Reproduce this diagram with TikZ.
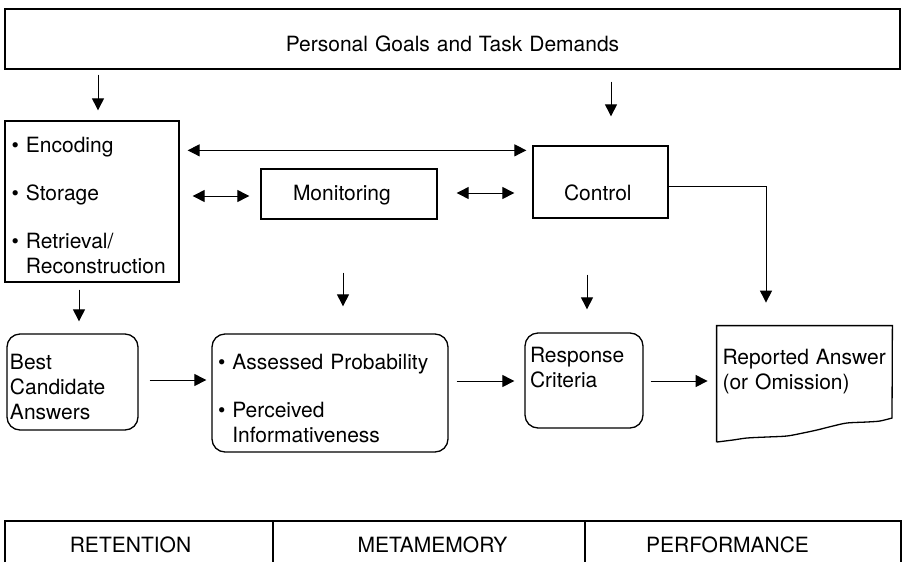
\documentclass[tikz,border=0pt]{standalone}
\usepackage{fontspec}
\setmainfont{TeX Gyre Heros}
\usetikzlibrary{arrows.meta,calc}

\begin{document}
\begin{tikzpicture}[x=0.5pt,y=-0.5pt,font=\fontsize{10.5}{12.5}\selectfont,
  box/.style={draw,line width=0.65pt,inner ysep=0pt,align=left},
  rbox/.style={box,rounded corners=6.5pt},
  arr/.style={line width=0.5pt,-{Triangle[length=6pt,width=6pt]}},
  dbl/.style={line width=0.5pt,{Triangle[length=6pt,width=6pt]}-{Triangle[length=6pt,width=6pt]}}]

\useasboundingbox (0,0) rectangle (904,562);

\node[box,align=center,inner xsep=0pt,text width=447.5pt,text height=21pt,text depth=9pt] (goals) at (452.5,39) {Personal Goals and Task Demands};

\node[box,inner xsep=3.3pt,text width=80.4pt,text height=15.75pt,text depth=64.75pt] (store) at (92,201.5)
  {\textbullet~Encoding\\[11.5pt] \textbullet~Storage\\[11.5pt] \textbullet~Retrieval/\\ \phantom{\textbullet~}Reconstruction};
\node[box,inner xsep=16pt,text width=56pt,text height=15.75pt,text depth=9.25pt] (monitor) at (349,194) {Monitoring};
\node[box,inner xsep=15.5pt,text width=36.5pt,text height=27.25pt,text depth=8.75pt] (control) at (600.5,182) {Control};

\node[rbox,inner xsep=1.5pt,text width=62.5pt,text height=17.75pt,text depth=30.25pt] (best) at (72.5,382) {Best\\Candidate\\Answers};
\node[rbox,inner xsep=3pt,text width=112pt,text height=17.75pt,text depth=41.25pt] (assess) at (330,393)
  {\textbullet~Assessed Probability\\[11.5pt] \textbullet~Perceived\\ \phantom{\textbullet~}Informativeness};
\node[rbox,inner xsep=2.5pt,text width=54pt,text height=14.75pt,text depth=32.75pt] (response) at (584,380.5) {Response\\Criteria};
\node[align=left,inner xsep=2.75pt,inner ysep=0pt,text width=82pt,text height=19.25pt,text depth=38.75pt] (report) at (804.5,384) {Reported Answer\\(or Omission)};
\draw[line width=0.65pt] (report.south west) -- (report.north west) -- (report.north east)
  -- plot[smooth,tension=.5] coordinates {(892,418) (880,421) (867,422) (847,423) (833,426) (817,430) (803,433) (787,436) (767,437) (747,438) (733,440) (717,442)};

\draw[arr] ($(store.north |- goals.south)+(6,5)$) -- ($(store.north)+(6,-10)$);
\draw[arr] ($(control.north |- goals.south)+(10.5,12)$) -- ($(control.north)+(10.5,-29)$);
\draw[dbl] ($(store.north east)+(8,30)$) -- ($(control.west |- store.north east)+(-6,30)$);
\draw[dbl] ($(store.east |- monitor.west)+(13,2)$) -- ($(monitor.west)+(-11,2)$);
\draw[dbl] ($(monitor.east)+(19,-1)$) -- ($(control.west |- monitor.east)+(-18,-1)$);
\draw[arr] ($(control.east)+(0,4)$) -| ($(report.north)+(-38.5,-23)$);
\draw[arr] ($(store.south)+(-13,7)$) -- ($(best.north)+(6.5,-12)$);
\draw[arr] ($(monitor.south)+(-6,53)$) -- ($(assess.north)+(13,-27)$);
\draw[arr] ($(control.south)+(-13.5,56)$) -- ($(response.north)+(3,-23)$);
\draw[arr] ($(best.east)+(11,-2)$) -- ($(assess.west)+(-5,-13)$);
\draw[arr] ($(assess.east)+(8,-12)$) -- ($(response.west)+(-10,0.5)$);
\draw[arr] ($(response.east)+(7,0.5)$) -- ($(report.west)+(-9,-3)$);

\draw[line width=0.65pt] (5,562) |- (901,521) -- (901,562) (273,521) -- (273,562) (585,521) -- (585,562);
\node (retention) at (130.5,545) {RETENTION};
\node (metamemory) at (432.5,545) {METAMEMORY};
\node (performance) at (727.5,545) {PERFORMANCE};

\end{tikzpicture}
\end{document}
